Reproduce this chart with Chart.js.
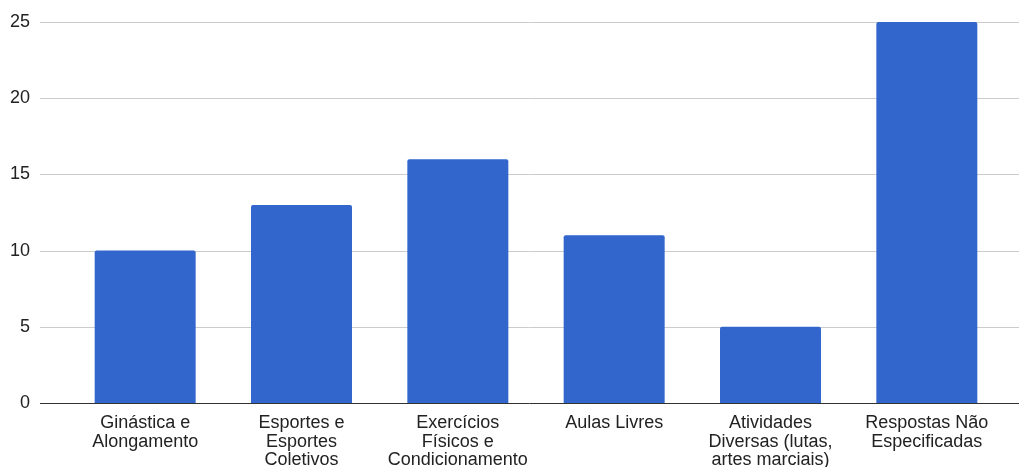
<!DOCTYPE html>
<html>
<head>
<meta charset="utf-8">
<script src="https://cdn.jsdelivr.net/npm/chart.js@4.4.0/dist/chart.umd.min.js"></script>
<style>
  html, body { margin: 0; padding: 0; background: #fff; }
  #wrap { width: 1019px; height: 467px; }
</style>
</head>
<body>
<div id="wrap"><canvas id="chart" width="1019" height="467"></canvas></div>
<script>
var categories = [
  ["Ginástica e", "Alongamento"],
  ["Esportes e", "Esportes", "Coletivos"],
  ["Exercícios", "Físicos e", "Condicionamento"],
  ["Aulas Livres"],
  ["Atividades", "Diversas (lutas,", "artes marciais)"],
  ["Respostas Não", "Especificadas"]
];
var counts = [10, 13, 16, 11, 5, 25];
var yTicks = [0, 5, 10, 15, 20, 25];

// grid lines run wider than the plot area, so draw them ourselves
var wideGrid = {
  id: "wideGrid",
  beforeDatasetsDraw: function(chart) {
    var ctx = chart.ctx;
    var y = chart.scales.y;
    ctx.save();
    ctx.lineWidth = 1;
    yTicks.forEach(function(t) {
      var py = Math.round(y.getPixelForValue(t)) + 0.5;
      ctx.strokeStyle = t === 0 ? "#333333" : "#cccccc";
      ctx.beginPath();
      ctx.moveTo(40, py);
      ctx.lineTo(chart.width, py);
      ctx.stroke();
    });
    ctx.restore();
  }
};

var ctx = document.getElementById("chart").getContext("2d");
var myChart = new Chart(ctx, {
  type: "bar",
  data: {
    labels: categories,
    datasets: [
      {
        data: counts,
        backgroundColor: "#3366cc",
        borderRadius: { topLeft: 2, topRight: 2 },
        borderSkipped: "bottom",
        categoryPercentage: 1,
        barPercentage: 0.646
      }
    ]
  },
  options: {
    responsive: false,
    animation: false,
    layout: { padding: { top: 22, right: 14, left: 0, bottom: 0 } },
    plugins: { legend: { display: false }, tooltip: { enabled: false } },
    scales: {
      x: {
        grid: { display: false, drawTicks: false },
        border: { display: false },
        ticks: {
          color: "#222222",
          padding: 11,
          maxRotation: 0,
          autoSkip: false,
          font: { family: "'Liberation Sans', Arial, sans-serif", size: 18, lineHeight: 1.03 }
        },
        afterFit: function(scale) { scale.height = 64; }
      },
      y: {
        min: 0,
        max: 25,
        grid: { display: false, drawTicks: false },
        border: { display: false },
        ticks: {
          stepSize: 5,
          color: "#222222",
          padding: 37,
          font: { family: "'Liberation Sans', Arial, sans-serif", size: 18 }
        },
        afterFit: function(scale) {
          scale.width = 67;
          scale.paddingTop = 0;
          scale.paddingBottom = 0;
        }
      }
    }
  },
  plugins: [wideGrid]
});
</script>
</body>
</html>
